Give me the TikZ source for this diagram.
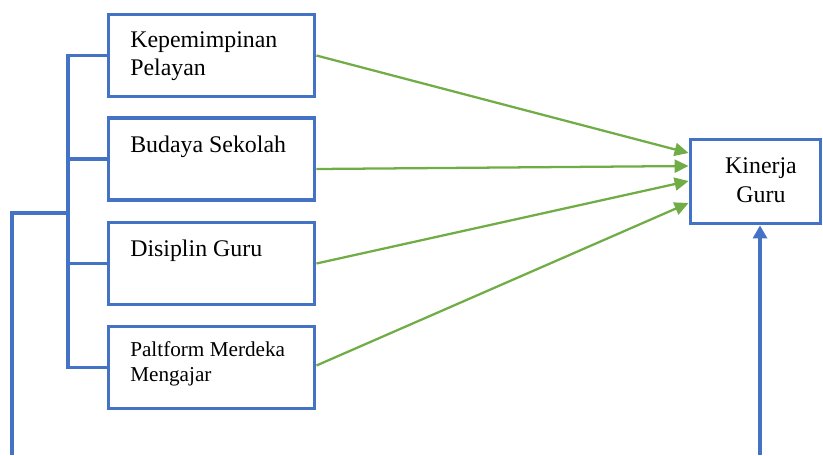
\documentclass[tikz,border=0pt]{standalone}
\usepackage{fontspec}
\setmainfont{Liberation Serif}
\usetikzlibrary{arrows.meta,calc}
\definecolor{boxblue}{HTML}{4472C4}
\definecolor{arrgreen}{HTML}{70AD47}
\begin{document}
\begin{tikzpicture}[x=0.75pt,y=-0.75pt,
  varbox/.style={draw=boxblue,line width=2.9pt,rectangle,
    minimum width=206*0.75pt,minimum height=82*0.75pt,inner sep=0pt},
  boxtext/.style={inner sep=0pt,anchor=base west,align=left,
    font=\fontsize{17.9}{21}\selectfont},
  link/.style={draw=boxblue,line width=2.5pt},
  effect/.style={draw=arrgreen,line width=1.7pt,
    -{Triangle[length=10.5pt,width=9.75pt]}}
]
\useasboundingbox (0,0) rectangle (823,455);

% independent variables
\node[varbox] (b1) at (211.5,55.5) {};
\node[varbox] (b2) at (211.5,159) {};
\node[varbox] (b3) at (211.5,263.5) {};
\node[varbox] (b4) at (211.5,367.5) {};
% dependent variable
\node[varbox,minimum width=130*0.75pt,minimum height=84*0.75pt] (k) at (755.5,181.5) {};

% box captions (multi-line nodes sit on the baseline of their last line)
\node[boxtext] (t1) at (130,75) {Kepemimpinan\\Pelayan};
\node[boxtext] (t2) at (130,152) {Budaya Sekolah};
\node[boxtext] (t3) at (130,256) {Disiplin Guru};
\node[boxtext,font=\fontsize{15.9}{18.75}\selectfont] (t4) at (130,381) {Paltform Merdeka\\Mengajar};
\node[inner sep=0pt,anchor=base,align=center,font=\fontsize{17.9}{21.75}\selectfont] (tk) at (761,202) {Kinerja\\Guru};

% bracket joining the four variables
\coordinate (spine) at (68,0);
\draw[link] (b1.west) -| (spine |- b4.west) -- (b4.west);
\draw[link] (spine |- b2.west) -- (b2.west);
\draw[link] (spine |- b3.west) -- (b3.west);
\coordinate (feed) at (12,455);
\coordinate (join) at (68,213);
\draw[link] (feed) |- (join);

% simultaneous effect arrow from below
\coordinate (rbase) at (760,455);
\draw[link,-{Triangle[length=9.75pt,width=10.5pt]}] (rbase) -- (rbase |- k.south);

% partial effects
\draw[effect] (b1.east) -- ($(k.west)+(0,-28.5)$);
\draw[effect] ($(b2.east)+(0,10)$) -- ($(k.west)+(0,-15.5)$);
\draw[effect] (b3.east) -- ($(k.west)+(0,-0.5)$);
\draw[effect] ($(b4.east)+(0,-2)$) -- ($(k.west)+(0,21.5)$);
\end{tikzpicture}
\end{document}
